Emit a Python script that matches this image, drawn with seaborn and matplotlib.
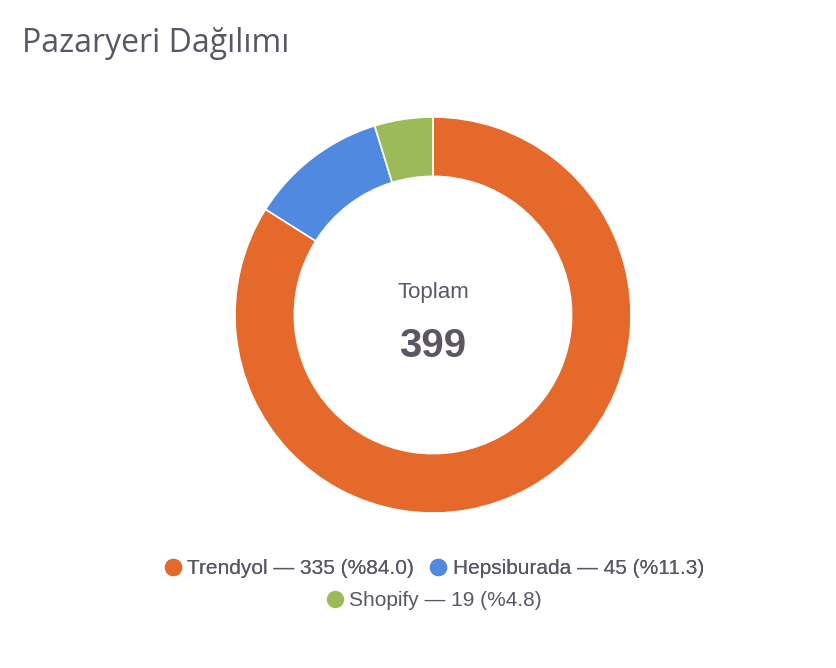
import matplotlib
matplotlib.use("Agg")
import matplotlib.pyplot as plt
import seaborn as sns
from matplotlib.lines import Line2D

# data
platforms = ["Trendyol", "Hepsiburada", "Shopify"]
counts = [335, 45, 19]
colors = ["#E4692B", "#4F89E0", "#9BBB59"]
title = "Pazaryeri Dağılımı"
center_label = "Toplam"

sns.set_theme(style="white")
plt.rcParams["font.family"] = ["Liberation Sans", "DejaVu Sans"]
text_col = "#5B5566"

W, H = 837, 668
fig = plt.figure(figsize=(W / 100, H / 100), dpi=100)
fig.patch.set_facecolor("white")

# square axes centred on the donut
cx, cy, side = 433, 315, 400
ax = fig.add_axes([(cx - side / 2) / W, (H - cy - side / 2) / H, side / W, side / H])
wedges, _ = ax.pie(counts, colors=colors, startangle=90, counterclock=False,
                   wedgeprops=dict(width=0.30, edgecolor="white", linewidth=1.2))
ax.set_xlim(-1.01, 1.01)
ax.set_ylim(-1.01, 1.01)
ax.set_aspect("equal")
ax.axis("off")

total = sum(counts)
ax.text(0, 0.115, center_label, ha="center", va="center", fontsize=16, color=text_col)
ax.text(0, -0.155, str(total), ha="center", va="center", fontsize=29,
        fontweight="bold", color=text_col)

fig.text(22 / W, 1 - 43 / H, title, ha="left", va="center", fontsize=23,
         color=text_col, family=["Open Sans", "DejaVu Sans"])

labels = [f"{p} — {c} (%{c / total * 100:.1f})" for p, c in zip(platforms, counts)]
handles = [Line2D([], [], marker="o", linestyle="", markersize=11.5,
                  markerfacecolor=col, markeredgecolor=col) for col in colors]

leg_kw = dict(frameon=False, fontsize=15, labelcolor=text_col, handletextpad=0.2,
              columnspacing=0.65, handlelength=1.0, loc="center")
leg1 = fig.legend(handles[:2], labels[:2], ncol=2,
                  bbox_to_anchor=(cx / W, 1 - 569 / H), **leg_kw)
fig.add_artist(leg1)
fig.legend(handles[2:], labels[2:], ncol=1,
           bbox_to_anchor=(cx / W, 1 - 601 / H), **leg_kw)

fig.savefig("out.png", dpi=100, facecolor="white")
